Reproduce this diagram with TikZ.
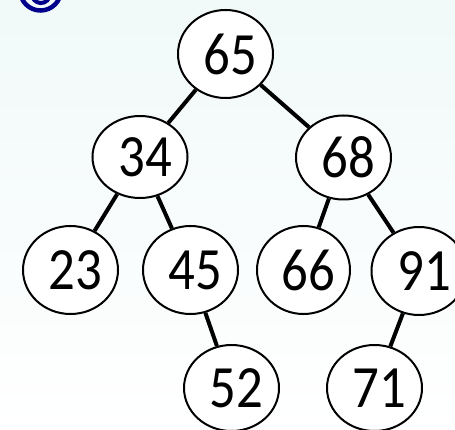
\documentclass[tikz,border=0pt]{standalone}
\usepackage{fontspec}
\setmainfont{Carlito}[FakeStretch=0.88]
\usetikzlibrary{shapes.geometric}

\definecolor{bgtint}{HTML}{F1F9F9}
\definecolor{markblue}{HTML}{00008B}

\tikzset{
  keynode/.style={ellipse, draw, line width=2pt, fill=white, minimum width=95pt, minimum height=88pt,
    inner sep=0pt, font=\fontsize{60}{60}\selectfont, execute at begin node=\kern10pt},
  branch/.style={line width=4pt}
}

\begin{document}
\begin{tikzpicture}[x=1pt, y=-1pt]
        % Background and clipping
        \shade[top color=bgtint, bottom color=white, middle color=bgtint!50!white] (0,0) rectangle (455,430);
        \useasboundingbox (0,0) rectangle (455,430);
        \clip (0,0) rectangle (455,430);

        % Corner mark
        \draw[markblue, line width=4.5pt] (40.5,-10) circle (20.5);
        \draw[markblue, line width=4pt] (32.5,-2.9) arc (160:20:9);

        % Draw nodes
        \node[keynode] (65) at (225.5,54) {65};
        \node[keynode, minimum height=82pt] (34) at (140,157) {34};
        \node[keynode, minimum height=84pt] (68) at (343.5,157.5) {68};
        \node[keynode] (23) at (70.5,270) {23};
        \node[keynode] (45) at (190.5,270) {45};
        \node[keynode, minimum width=93pt] (66) at (303.5,270) {66};
        \node[keynode] (91) at (419,271) {91};
        \node[keynode, minimum height=86pt] (52) at (231.5,388) {52};
        \node[keynode, minimum height=86pt] (71) at (374.5,388) {71};

        % Draw connections
        \draw[branch] (65) -- (34);
        \draw[branch] (65) -- (68);
        \draw[branch] (34) -- (23);
        \draw[branch] (34) -- (45);
        \draw[branch] (45) -- (52);
        \draw[branch] (68) -- (66);
        \draw[branch] (68) -- (91);
        \draw[branch] (91) -- (71);
    \end{tikzpicture}
\end{document}
